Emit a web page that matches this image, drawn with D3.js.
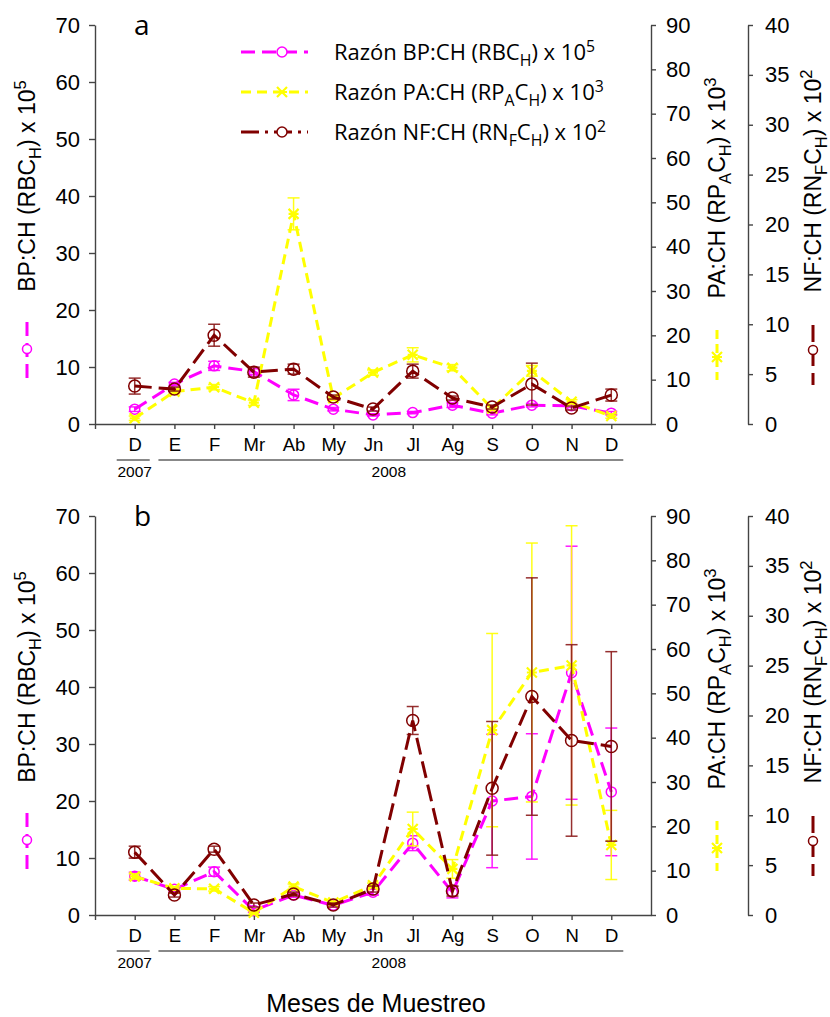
<!DOCTYPE html>
<html><head><meta charset="utf-8">
<script src="https://cdn.jsdelivr.net/npm/d3@7"></script>
<style>body{margin:0;background:#fff}svg{display:block}</style>
</head><body>
<svg id="chart" width="830" height="1017"></svg>
<script>
const months = ["D","E","F","Mr","Ab","My","Jn","Jl","Ag","S","O","N","D"];
const years = [{label:"2007", from:0, to:0}, {label:"2008", from:1, to:12}];
const leftTicks = [0,10,20,30,40,50,60,70];
const paTicks = [0,10,20,30,40,50,60,70,80,90];
const nfTicks = [0,5,10,15,20,25,30,35,40];

// Panel a
const bpA    = [2.6,7.0,10.2,9.2,5.1,2.6,1.6,2.0,3.3,1.9,3.3,3.2,1.9];
const bpAErr = [0.4,0.3,0.8,0.5,1.0,0.3,0.2,0.2,0.4,0.3,0.3,0.3,0.3];
const paA    = [1.3,7.3,8.3,4.8,47.4,5.8,11.6,15.6,12.7,3.5,12.0,5.0,1.8];
const paAErr = [0.5,0.5,0.6,0.6,3.6,0.5,0.6,1.6,0.7,0.5,1.2,0.5,0.5];
const nfA    = [3.8,3.5,8.9,5.2,5.5,2.7,1.5,5.3,2.6,1.7,4.0,1.6,2.9];
const nfAErr = [0.8,0.2,1.1,0.5,0.5,0.2,0.2,0.7,0.2,0.2,2.1,0.2,0.6];
// Panel b
const bpB    = [6.8,4.5,7.6,0.8,3.5,1.7,4.0,12.6,4.0,20.0,20.8,42.5,21.6];
const bpBErr = [0.7,0.4,0.8,0.3,0.4,0.3,0.5,1.3,1.0,11.7,11.0,22.2,11.2];
const paB    = [8.7,6.0,5.9,0.5,6.4,2.8,6.7,19.4,10.4,41.7,54.7,56.3,15.8];
const paBErr = [0.6,0.4,0.5,0.4,0.6,0.3,0.5,3.8,2.1,21.8,29.2,31.5,7.8];
const nfB    = [6.3,2.0,6.6,1.0,2.1,1.0,2.6,19.5,2.4,12.7,21.9,17.5,16.9];
const nfBErr = [0.6,0.2,0.3,0.2,0.2,0.2,0.3,1.4,0.5,6.7,11.9,9.6,9.5];

const C_BP = "#ff00ff", C_PA = "#ffff00", C_NF = "#800000";
const AX = "Liberation Sans, Arial, sans-serif";
const LG = "Open Sans, Noto Sans, sans-serif";

const svg = d3.select("#chart");
svg.append("rect").attr("width",830).attr("height",1017).attr("fill","#fff");

const x = d3.scaleLinear().domain([-1,13]).range([95,651]);

function addRich(sel, parts, fs){
  let shift = 0;
  parts.forEach(([t,m])=>{
    const target = m==="sub"? fs*0.28 : m==="sup"? -fs*0.38 : 0;
    const ts = sel.append("tspan").text(t).attr("dy", target - shift);
    if(m) ts.attr("font-size", fs*0.72);
    shift = target;
  });
}

function marker(g, type, color, cx, cy){
  if(type==="circle"){
    g.append("circle").attr("cx",cx).attr("cy",cy).attr("r",5).attr("fill","none").attr("stroke",color).attr("stroke-width",1.5);
  } else if(type==="bigcircle"){
    g.append("circle").attr("cx",cx).attr("cy",cy).attr("r",6).attr("fill","none").attr("stroke",color).attr("stroke-width",1.5);
  } else {
    const s=5;
    g.append("path").attr("d",`M${cx-s},${cy-s}L${cx+s},${cy+s}M${cx-s},${cy+s}L${cx+s},${cy-s}M${cx-s},${cy}L${cx+s},${cy}`)
      .attr("stroke",color).attr("stroke-width",2.2).attr("fill","none");
  }
}

function drawPanel(off, series, letter, showLegend){
  const top = 25+off, bot = 424+off;
  const yL = d3.scaleLinear().domain([0,70]).range([bot,top]);
  const yP = d3.scaleLinear().domain([0,90]).range([bot,top]);
  const yN = d3.scaleLinear().domain([0,40]).range([bot,top]);
  const g = svg.append("g");

  const la = g.append("g").attr("transform",`translate(95,0)`)
    .call(d3.axisLeft(yL).tickValues(leftTicks).tickSize(6).tickSizeOuter(0).tickPadding(9));
  const pa = g.append("g").attr("transform",`translate(651,0)`)
    .call(d3.axisRight(yP).tickValues(paTicks).tickSize(5).tickSizeOuter(0).tickPadding(10));
  const na = g.append("g").attr("transform",`translate(748,0)`)
    .call(d3.axisRight(yN).tickValues(nfTicks).tickSize(5).tickSizeOuter(0).tickPadding(12));
  const xa = g.append("g").attr("transform",`translate(0,${bot})`)
    .call(d3.axisBottom(x).tickValues(d3.range(-1,13)).tickSize(5).tickSizeOuter(0).tickPadding(9)
      .tickFormat(i=> i<0? "" : months[i]));
  [la,pa,na,xa].forEach(a=>{
    a.attr("font-family",AX);
    a.selectAll("path,line").attr("stroke","#444").attr("stroke-width",1.4);
    a.selectAll("text").attr("font-family",AX).attr("font-size",22).attr("fill","#000");
  });
  xa.selectAll("text").attr("font-size",18.5);

  years.forEach(yr=>{
    const x0 = x(yr.from)-(yr.from===0?18:16), x1 = x(yr.to)+(yr.to===0?15:12);
    g.append("line").attr("x1",x0).attr("x2",x1).attr("y1",bot+36).attr("y2",bot+36)
      .attr("stroke","#888").attr("stroke-width",2);
    g.append("text").attr("x",(yr.from===0? x(0): (x(yr.from)+x(yr.to))/2 - 4)).attr("y",bot+53)
      .attr("text-anchor","middle").attr("font-family",AX).attr("font-size",15.5).text(yr.label);
  });

  g.append("text").attr("x",134).attr("y",top+10).attr("font-family",LG).attr("font-size",28).text(letter);

  const defs = [
    {vals:series.bp, err:series.bpErr, y:yL, color:C_BP, dash:"14,7", m:"circle", ec:C_BP},
    {vals:series.pa, err:series.paErr, y:yP, color:C_PA, dash:"10,6", m:"x", ec:C_PA},
    {vals:series.nf, err:series.nfErr, y:yN, color:C_NF, dash:"17,7", m:"bigcircle", ec:"#8b1a1a"}
  ];
  defs.forEach(s=>{
    const sg = g.append("g");
    s.vals.forEach((v,i)=>{
      const e = s.err[i];
      const cx = x(i), y0 = s.y(v-e), y1 = s.y(v+e);
      sg.append("line").attr("x1",cx).attr("x2",cx).attr("y1",y0).attr("y2",y1).attr("stroke",s.ec).attr("stroke-width",1.5).attr("opacity",0.9);
      [y0,y1].forEach(yy=> sg.append("line").attr("x1",cx-6).attr("x2",cx+6).attr("y1",yy).attr("y2",yy).attr("stroke",s.ec).attr("stroke-width",1.5).attr("opacity",0.9));
    });
    sg.append("path").datum(s.vals)
      .attr("d", d3.line().x((d,i)=>x(i)).y(d=>s.y(d)))
      .attr("fill","none").attr("stroke",s.color).attr("stroke-width",3).attr("stroke-dasharray",s.dash);
    s.vals.forEach((v,i)=> marker(sg, s.m, s.color, x(i), s.y(v)));
  });

  const titles = [
    {cx:27, textC:186, sym:[322,385,349], color:C_BP, dash:"14,7", m:"circle",
     parts:[["BP:CH (RBC",""],["H","sub"],[") x 10",""],["5","sup"]]},
    {cx:717, textC:188, sym:[330,380,357], color:C_PA, dash:"9,5", m:"x",
     parts:[["PA:CH  (RP",""],["A","sub"],["C",""],["H","sub"],[") x 10",""],["3","sup"]]},
    {cx:813, textC:181, sym:[325,385,350], color:C_NF, dash:"17,7", m:"circle",
     parts:[["NF:CH (RN",""],["F","sub"],["C",""],["H","sub"],[") x 10",""],["2","sup"]]}
  ];
  titles.forEach(t=>{
    const tx = g.append("text").attr("transform",`translate(${t.cx+8},${t.textC+off}) rotate(-90)`)
      .attr("text-anchor","middle").attr("font-family",AX).attr("font-size",23);
    addRich(tx, t.parts, 23);
    g.append("line").attr("x1",t.cx).attr("x2",t.cx).attr("y1",t.sym[0]+off).attr("y2",t.sym[1]+off)
      .attr("stroke",t.color).attr("stroke-width",3).attr("stroke-dasharray",t.dash);
    const mg = g.append("g");
    if(t.m==="circle"){
      mg.append("circle").attr("cx",t.cx).attr("cy",t.sym[2]+off).attr("r",4.5).attr("fill","#fff").attr("stroke",t.color).attr("stroke-width",1.5);
    } else marker(mg,"x",t.color,t.cx,t.sym[2]+off);
  });

  if(showLegend){
    const items = [
      {color:C_BP, dash:"14,7", m:"circle", parts:[["Razón BP:CH (RBC",""],["H","sub"],[") x 10",""],["5","sup"]]},
      {color:C_PA, dash:"10,6", m:"x", parts:[["Razón PA:CH (RP",""],["A","sub"],["C",""],["H","sub"],[") x 10",""],["3","sup"]]},
      {color:C_NF, dash:"18,6,3,6", m:"circle", parts:[["Razón NF:CH (RN",""],["F","sub"],["C",""],["H","sub"],[") x 10",""],["2","sup"]]}
    ];
    items.forEach((it,k)=>{
      const yy = top + 27 + k*40;
      g.append("line").attr("x1",241).attr("x2",308).attr("y1",yy).attr("y2",yy)
        .attr("stroke",it.color).attr("stroke-width",3).attr("stroke-dasharray",it.dash);
      const mg = g.append("g");
      if(it.m==="circle") mg.append("circle").attr("cx",282).attr("cy",yy).attr("r",5).attr("fill","#fff").attr("stroke",it.color).attr("stroke-width",1.5);
      else marker(mg,"x",it.color,282,yy);
      const tx = g.append("text").attr("x",334).attr("y",yy+8).attr("font-family",LG).attr("font-size",22);
      addRich(tx, it.parts, 22);
    });
  }
}

drawPanel(0, {bp:bpA,bpErr:bpAErr,pa:paA,paErr:paAErr,nf:nfA,nfErr:nfAErr}, "a", true);
drawPanel(491, {bp:bpB,bpErr:bpBErr,pa:paB,paErr:paBErr,nf:nfB,nfErr:nfBErr}, "b", false);

svg.append("text").attr("x",376).attr("y",1012).attr("text-anchor","middle")
  .attr("font-family",AX).attr("font-size",25).text("Meses de Muestreo");
</script>
</body></html>
